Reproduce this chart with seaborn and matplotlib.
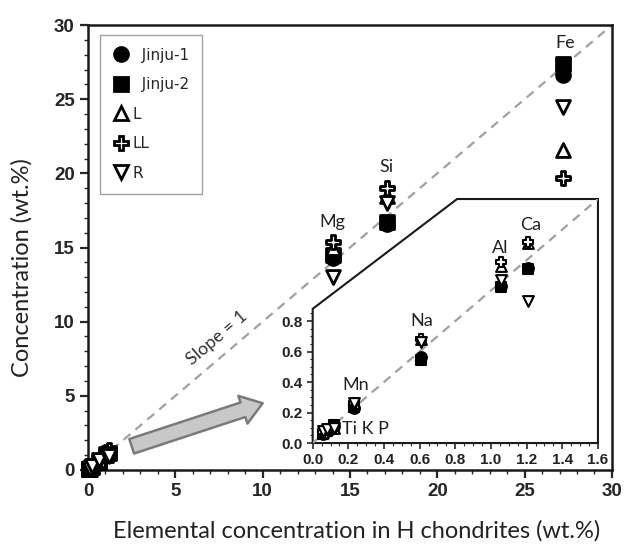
import numpy as np
import pandas as pd
import matplotlib.pyplot as plt
import seaborn as sns
from matplotlib.patches import Polygon
from matplotlib.lines import Line2D
from matplotlib.ticker import MultipleLocator

# element concentrations (wt.%), x = H chondrites
elements = ['Ti', 'K', 'P', 'Mn', 'Na', 'Al', 'Ca', 'Mg', 'Si', 'Fe']
h_chondrite = [0.06, 0.08, 0.12, 0.232, 0.607, 1.054, 1.21, 14.0, 17.1, 27.2]
jinju1 = [0.06, 0.08, 0.11, 0.23, 0.565, 1.03, 1.15, 14.3, 16.6, 26.6]
jinju2 = [0.06, 0.08, 0.12, 0.235, 0.545, 1.025, 1.14, 14.5, 16.7, 27.4]
l_chond = [0.07, 0.09, 0.10, 0.26, 0.68, 1.16, 1.31, 15.0, 18.5, 21.6]
ll_chond = [0.07, 0.09, 0.09, 0.26, 0.685, 1.19, 1.32, 15.4, 19.0, 19.7]
r_chond = [0.08, 0.09, 0.10, 0.26, 0.665, 1.07, 0.93, 13.0, 18.0, 24.5]

groups = ['Jinju-1', 'Jinju-2', 'L', 'LL', 'R']
group_values = [jinju1, jinju2, l_chond, ll_chond, r_chond]
markers = ['o', 's', '^', 'P', 'v']
faces = ['black', 'black', 'white', 'white', 'white']
legend_names = ['  Jinju-1', '  Jinju-2', 'L', 'LL', 'R']

# long table
rows = []
for g, vals in zip(groups, group_values):
    for el, hx, v in zip(elements, h_chondrite, vals):
        rows.append({'Element': el, 'H': hx, 'Conc': v, 'Group': g})
data = pd.DataFrame(rows)

sns.set_style('ticks')
plt.rcParams['font.family'] = ['Liberation Sans', 'DejaVu Sans']

fig = plt.figure(figsize=(6.27, 5.46), dpi=100)
ax = fig.add_axes([0.1404, 0.1392, 0.8356, 0.8150])

ax.plot([0, 30], [0, 30], ls=(0, (4, 3)), color='#a0a0a0', lw=1.6, zorder=1)

for g, m, fc in zip(groups, markers, faces):
    sub = data[data['Group'] == g]
    sns.scatterplot(data=sub, x='H', y='Conc', marker=m, s=100, color=fc,
                    edgecolor='black', linewidth=2, ax=ax, zorder=3, clip_on=False)

ax.set_xlim(0, 30)
ax.set_ylim(0, 30)
ax.xaxis.set_major_locator(MultipleLocator(5))
ax.yaxis.set_major_locator(MultipleLocator(5))
ax.xaxis.set_minor_locator(MultipleLocator(1))
ax.yaxis.set_minor_locator(MultipleLocator(1))
ax.tick_params(which='major', direction='out', length=6, width=1.6, labelsize=13.5)
ax.tick_params(which='minor', direction='out', length=3, width=1.0)
for lab in ax.get_xticklabels() + ax.get_yticklabels():
    lab.set_fontweight('bold')
for sp in ax.spines.values():
    sp.set_linewidth(1.8)
    sp.set_color('#1a1a1a')

ax.set_xlabel('Elemental concentration in H chondrites (wt.%)', family='Lato',
              fontsize=17, color='#222222')
ax.set_ylabel('Concentration (wt.%)', family='Lato', fontsize=17, color='#222222')
ax.xaxis.set_label_coords(0.513, -0.112)
ax.yaxis.set_label_coords(-0.105, 0.455)

# element labels on main plot
lab_kw = dict(family='Lato', fontsize=13, ha='center', va='center', color='#222222')
ax.text(27.3, 28.8, 'Fe', **lab_kw)
ax.text(17.1, 20.4, 'Si', **lab_kw)
ax.text(14.0, 16.7, 'Mg', **lab_kw)
ax.text(7.4, 8.9, 'Slope = 1', family='Lato', fontsize=13, ha='center', va='center',
        rotation=45, transform_rotates_text=True, rotation_mode='anchor', color='#333333')

# arrow toward the inset
ax.annotate('', xy=(10.0, 4.5), xytext=(2.5, 1.6),
            arrowprops=dict(arrowstyle='simple,head_length=0.75,head_width=1.05,tail_width=0.55',
                            mutation_scale=20, fc='#c8c8c8', ec='#7a7a7a', lw=1.8,
                            shrinkA=0, shrinkB=0))

handles = [Line2D([], [], marker=m, ls='none', markersize=10, markerfacecolor=fc,
                  markeredgecolor='black', markeredgewidth=2) for m, fc in zip(markers, faces)]
leg = ax.legend(handles, legend_names, loc='upper left', bbox_to_anchor=(0.023, 0.978),
                borderaxespad=0, frameon=True, fancybox=False, edgecolor='#888888',
                labelspacing=0.95, handletextpad=0.15, borderpad=0.85, handlelength=1.1,
                prop={'family': 'DejaVu Sans', 'size': 11})
leg.get_frame().set_linewidth(1.0)

# inset
axi = fig.add_axes([0.4987, 0.1886, 0.4550, 0.4469])
axi.patch.set_visible(False)
for sp in axi.spines.values():
    sp.set_visible(False)
frame = Polygon([[0, 0], [0, 0.88], [0.81, 1.6], [1.6, 1.6], [1.6, 0]], closed=True,
                facecolor='white', edgecolor='#1a1a1a', lw=1.5, zorder=0, clip_on=False)
axi.add_patch(frame)
axi.plot([0, 1.6], [0, 1.6], ls=(0, (4, 3)), color='#a0a0a0', lw=1.6, zorder=1)

small = data[data['H'] < 2]
for g, m, fc in zip(groups, markers, faces):
    sub = small[small['Group'] == g]
    sns.scatterplot(data=sub, x='H', y='Conc', marker=m, s=60, color=fc,
                    edgecolor='black', linewidth=1.5, ax=axi, zorder=3, clip_on=False)

axi.set_xlim(0, 1.6)
axi.set_ylim(0, 1.6)
axi.set_xticks(np.arange(0, 1.61, 0.2))
axi.set_yticks(np.arange(0, 0.81, 0.2))
axi.set_xticks(np.arange(0, 1.61, 0.05), minor=True)
axi.set_yticks(np.arange(0, 0.86, 0.05), minor=True)
axi.xaxis.set_major_formatter(plt.FormatStrFormatter('%.1f'))
axi.yaxis.set_major_formatter(plt.FormatStrFormatter('%.1f'))
axi.tick_params(which='major', direction='out', length=4, width=1.2, labelsize=11, pad=3)
axi.tick_params(which='minor', direction='out', length=2, width=0.8)
for lab in axi.get_xticklabels() + axi.get_yticklabels():
    lab.set_fontweight('bold')
    lab.set_color('#222222')
axi.set_xlabel('')
axi.set_ylabel('')

axi.text(0.165, 0.09, 'Ti K P', family='Lato', fontsize=13, ha='left', va='center', color='#222222')
axi.text(0.24, 0.38, 'Mn', **lab_kw)
axi.text(0.61, 0.80, 'Na', **lab_kw)
axi.text(1.05, 1.28, 'Al', **lab_kw)
axi.text(1.22, 1.43, 'Ca', **lab_kw)

fig.savefig('out.png', dpi=100)
